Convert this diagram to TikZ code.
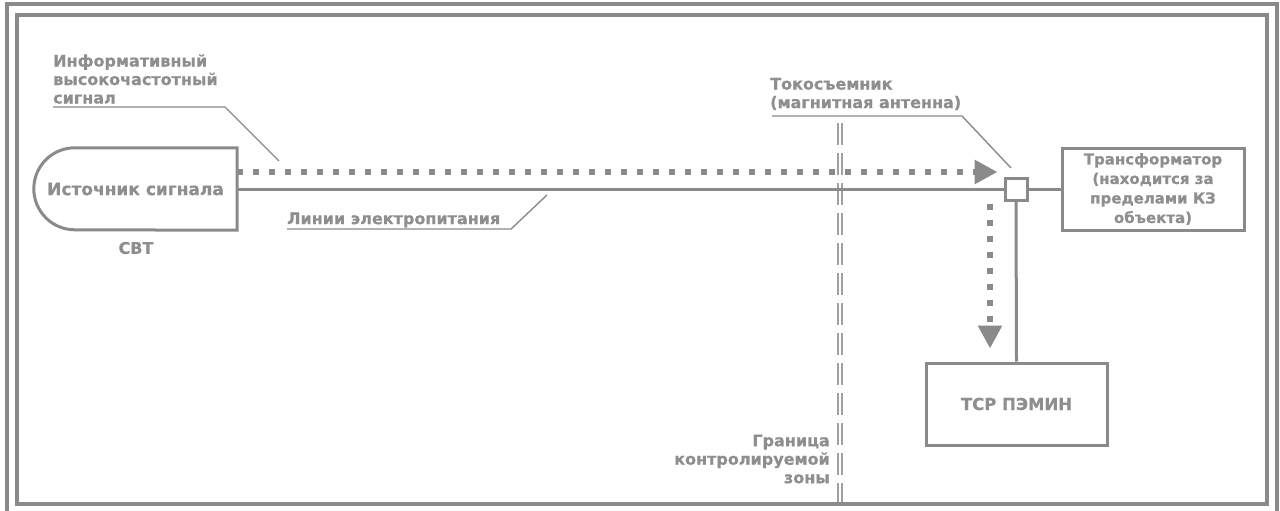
\documentclass[tikz,border=0pt]{standalone}
\usepackage{fontspec}
\setmainfont{DejaVu Sans}[BoldFeatures={FakeBold=0.6}]
\usetikzlibrary{arrows.meta}
\definecolor{lg}{HTML}{8A8A8A}
\definecolor{tg}{HTML}{8E8E8E}
\definecolor{bg}{HTML}{A0A0A0}
\begin{document}
\begin{tikzpicture}[x=1pt,y=-1pt,
  lbl/.style={text=tg, font=\bfseries\fontsize{16}{18.5}\selectfont, inner sep=0pt},
  boxx/.style={draw=lg, line width=3pt, fill=white, text=tg, font=\bfseries\fontsize{15}{19.5}\selectfont, align=center, inner sep=0pt},
  frame/.style={draw=lg, line width=4pt},
  wire/.style={draw=lg, line width=3pt},
  lead/.style={draw=lg, line width=1.4pt},
  sig/.style={draw=lg, line width=6pt, dash pattern=on 6pt off 10pt, -{Triangle[length=23pt,width=23pt]}},
  zone/.style={draw=bg, line width=1.6pt, double=white, double distance=2.2pt, dash pattern=on 22pt off 8pt}]
\useasboundingbox (0,0) rectangle (1280,511);
\fill[white] (0,0) rectangle (1280,511);
% frames
\draw[frame] (7,4) rectangle (1277,530);
\draw[frame] (17,15) rectangle (1267,504);
% zone boundary
\coordinate (zt) at (840,123);
\coordinate (zb) at (840,502);
\draw[zone] (zt) -- (zb);
% nodes
\node[lbl, font=\bfseries\fontsize{17}{18}\selectfont, minimum width=203pt, minimum height=82pt] (src) at (135.5,189) {Источник сигнала};
\draw[wire] (src.north east) -- ([xshift=41pt]src.north west) arc (270:90:41) -- (src.south east) -- cycle;
\node[lbl] (svt) at (136,248) {СВТ};
\node[boxx, minimum width=22pt, minimum height=22pt] (ant) at (1016,189) {};
\node[boxx, minimum width=182pt, minimum height=82pt] (trans) at (1153,189) {Трансформатор\\(находится за\\пределами КЗ\\объекта)};
\node[boxx, font=\bfseries\fontsize{16.5}{19.5}\selectfont, minimum width=181pt, minimum height=82pt] (tsr) at (1016.5,404) {ТСР ПЭМИН};
% wires
\draw[wire] (src.east) -- (ant.west);
\draw[wire] (ant.east) -- (trans.west);
\draw[wire] (ant.south) -- (tsr.north);
% signal arrows
\coordinate (sy) at (0,172);
\coordinate (sx) at (990,0);
\draw[sig, shorten >=6pt] (src.east |- sy) -- (ant.west |- sy);
\draw[sig, shorten >=13pt] ([yshift=-2pt]ant.south -| sx) -- (tsr.north -| sx);
% labels
\node[lbl, anchor=west, align=left] (info) at (53,79) {Информативный\\высокочастотный\\сигнал};
\coordinate (i1) at (53,107);
\coordinate (i2) at (225,107);
\coordinate (i3) at (279,161);
\draw[lead] (i1) -- (i2) -- (i3);
\node[lbl, anchor=west] (pwr) at (287,220) {Линии электропитания};
\coordinate (p1) at (287,229);
\coordinate (p2) at (511,229);
\coordinate (p3) at (547,195);
\draw[lead] (p1) -- (p2) -- (p3);
\node[lbl, anchor=west, align=left] (tok) at (770,94) {Токосъемник\\(магнитная антенна)};
\coordinate (t1) at (772,116);
\coordinate (t2) at (962,116);
\coordinate (t3) at (1011,168);
\draw[lead] (t1) -- (t2) -- (t3);
\node[lbl, anchor=east, align=right] (gr) at (830,459) {Граница\\контролируемой\\зоны};
\end{tikzpicture}
\end{document}
